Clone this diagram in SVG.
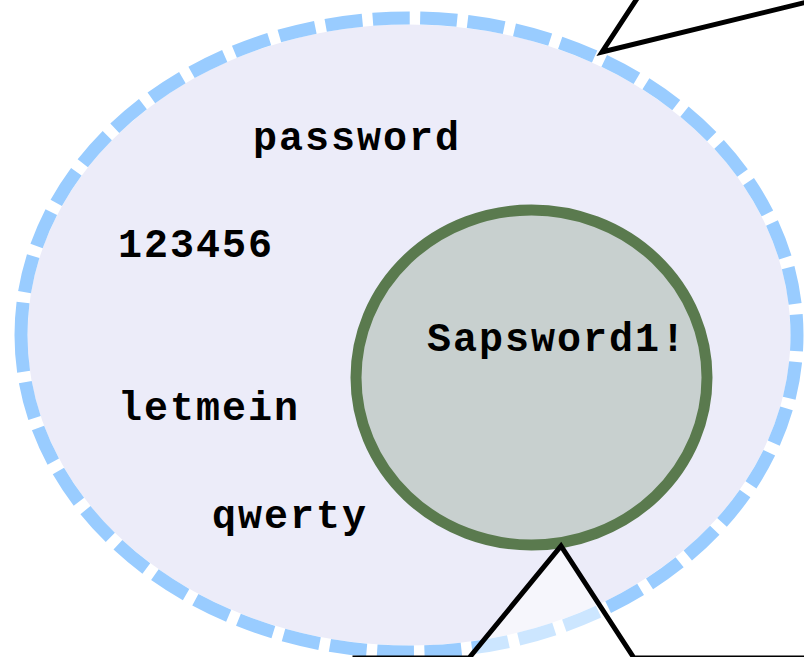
<svg xmlns="http://www.w3.org/2000/svg" width="804" height="657" viewBox="0 0 804 657">
  <style>
    .lbl { font-family: "Liberation Mono", "Courier New", monospace; font-weight: bold; font-size: 40px; letter-spacing: 2px; fill: #000; text-anchor: middle; }
    .callout { fill: #ffffff; fill-opacity: 0.5; stroke: #000; stroke-width: 5; stroke-linejoin: miter; }
  </style>
  <rect x="0" y="0" width="804" height="657" fill="#ffffff"/>
  <g id="common-passwords">
    <ellipse cx="409" cy="335" rx="388" ry="317" fill="#ECECF9" stroke="#ffffff" stroke-width="13"/>
    <path d="M 21 335 A 388 317 0 1 0 797 335 A 388 317 0 1 0 21 335" fill="none" stroke="#99CCFF" stroke-width="13" stroke-dasharray="37 10.55"/>
    <text class="lbl" x="357" y="150">password</text>
    <text class="lbl" x="196" y="257">123456</text>
    <text class="lbl" x="209" y="420">letmein</text>
    <text class="lbl" x="290" y="528">qwerty</text>
  </g>
  <g id="strong-password">
    <ellipse cx="531.5" cy="377.5" rx="175.5" ry="167.5" fill="#C8D0CF" stroke="#5A7A4E" stroke-width="11"/>
    <text class="lbl" x="557" y="351">Sapsword1!</text>
  </g>
  <g id="connectors">
    <path id="callout-top" class="callout" d="M 640 -6 L 602 52 L 840 -6 Z"/>
    <path id="callout-bottom" class="callout" d="M 355 658 L 469 658 L 561 546 L 634 658 L 820 658 L 820 720 L 355 720 Z"/>
  </g>
</svg>
